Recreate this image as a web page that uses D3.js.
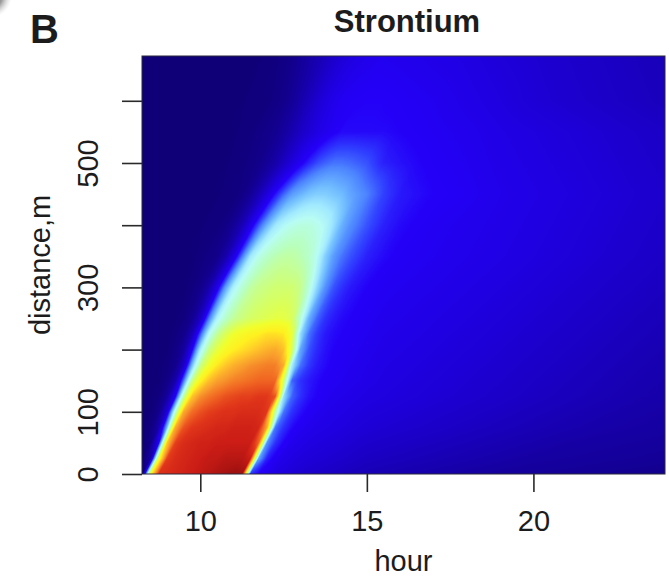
<!DOCTYPE html>
<html>
<head>
<meta charset="utf-8">
<script src="https://cdn.jsdelivr.net/npm/d3@7"></script>
<style>
  html, body { margin: 0; padding: 0; background: #ffffff; }
  svg { display: block; }
  text { font-family: "Liberation Sans", Arial, Helvetica, sans-serif; fill: #1c1c1c; }
</style>
</head>
<body>
<svg id="chart" width="669" height="579"></svg>
<script>
// Sampling grid: hour of day (columns) and distance downstream in metres (rows)
const hours = [8.25, 8.5, 8.75, 9, 9.25, 9.5, 9.75, 10, 10.25, 10.5, 10.75, 11, 11.25, 11.5, 11.75,
  12, 12.25, 12.5, 12.75, 13, 13.25, 13.5, 13.75, 14, 14.25, 14.5, 15, 15.5, 16, 17, 18, 19, 20, 21, 22, 23, 24];
const distances = [0, 25, 50, 75, 100, 125, 150, 175, 200, 225, 250, 300, 350, 400, 450, 500, 550, 600, 672];

// Hour at which the middle of the tracer cloud passes each distance
const plumeCentre = [9.94, 10.19, 10.4, 10.61, 10.78, 10.96, 11.13, 11.29, 11.46, 11.59, 11.79,
  12.2, 12.58, 13.08, 13.6, 14.1, 14.5, 15.0, 15.5];

// Relative strontium concentration (% of maximum), one row per distance
const concentration = [
  [0, 62, 88, 89, 90, 91, 92, 93, 94, 95, 96, 97, 97, 24, 21, 19, 17, 16, 15, 14, 13.5, 13, 12.5, 12, 11.5, 11, 10, 9.5, 9, 8, 7, 6, 5.5, 5, 4.5, 4, 3.5],
  [0, 6, 60, 86, 89, 90, 91, 92, 93, 93, 94, 94, 94, 92, 32, 23, 20, 18, 17, 16, 15.5, 15, 14.5, 14, 13.5, 13, 12, 11.5, 11, 10, 9, 8, 7, 6.5, 6, 5.5, 5],
  [0, 2, 20, 70, 86, 89, 90, 91, 91, 92, 92, 92, 92, 92, 82, 30, 24, 21, 19, 18, 17, 16.5, 16, 15.5, 15, 14.5, 13.5, 13, 12.5, 11.5, 10.5, 9.5, 8.5, 7.5, 7, 6.5, 6],
  [0, 1, 8, 34, 74, 84, 87, 88, 89, 90, 90, 91, 91, 91, 90, 74, 28, 24, 21.5, 20, 19, 18, 17.5, 17, 16.5, 16, 15, 14.5, 14, 13, 12, 11, 10, 9, 8, 7.5, 7],
  [0, 0, 3, 15, 46, 74, 81, 84, 86, 87, 88, 88, 89, 89, 89, 87, 50, 28, 24, 22, 20.5, 19.5, 18.5, 18, 17.5, 17, 16, 15.5, 15, 14, 13, 12, 11, 10, 9, 8, 7.5],
  [0, 0, 1, 6, 20, 50, 70, 77, 80, 82, 84, 85, 86, 86, 87, 87, 84, 38, 27, 24, 22, 21, 20, 19, 18.5, 18, 17, 16.5, 16, 15, 14, 13, 12, 11, 10, 9, 8],
  [0, 0, 0, 2, 8, 28, 52, 64, 71, 75, 77, 79, 80, 81, 82, 82, 82, 55, 27, 24, 22.5, 21.5, 20.5, 20, 19.5, 19, 18, 17, 16.5, 15.5, 14.5, 13.5, 12.5, 11.5, 10.5, 9.5, 8.5],
  [0, 0, 0, 1, 3, 12, 34, 52, 60, 66, 70, 73, 75, 77, 78, 79, 79, 74, 40, 28, 24.5, 22.5, 21.5, 20.5, 20, 19.5, 18.5, 17.5, 17, 16, 15, 14, 13, 12, 11, 10, 9],
  [0, 0, 0, 0, 2, 6, 20, 40, 52, 58, 62, 65, 67, 69, 71, 73, 74, 71, 56, 32, 26, 23.5, 22, 21, 20.5, 20, 19, 18, 17.5, 16.5, 15.5, 14.5, 13.5, 12.5, 11.5, 10.5, 9.5],
  [0, 0, 0, 0, 1, 3, 10, 26, 42, 51, 56, 60, 62, 64, 65, 67, 67, 66, 59, 38, 28, 24.5, 22.5, 21.5, 21, 20.5, 19.5, 18.5, 18, 17, 16, 15, 14, 13, 12, 11, 10],
  [0, 0, 0, 0, 0, 1, 4, 12, 28, 41, 47, 51, 53, 55, 56, 57, 58, 58, 56, 46, 33, 27, 24, 22.5, 21.5, 21, 20, 19, 18.5, 17.5, 16.5, 15.5, 14.5, 13.5, 12.5, 11.5, 10.5],
  [0, 0, 0, 0, 0, 0, 1, 3, 8, 18, 31, 41, 46, 50, 52, 53, 54, 54, 54, 52, 46, 37, 30, 26, 24, 22.5, 21, 20, 19.5, 18.5, 17.5, 16.5, 15.5, 14.5, 13.5, 12.5, 11.5],
  [0, 0, 0, 0, 0, 0, 0, 1, 2, 3, 8, 17, 28, 39, 44, 47, 49, 50, 50, 49, 47, 43, 36, 31, 28, 26, 23, 21.5, 20.5, 19.5, 18.5, 17.5, 16.5, 15.5, 14.5, 13.5, 12.5],
  [0, 0, 0, 0, 0, 0, 0, 0, 1, 1, 2, 5, 10, 18, 26, 33, 39, 42, 44, 45, 45, 44, 42, 38, 33, 30, 26, 23, 21.5, 20, 19, 18, 17, 16, 15, 14, 13],
  [0, 0, 0, 0, 0, 0, 0, 0, 0, 0, 1, 1, 2, 5, 10, 16, 22, 27, 31, 33, 35, 36, 36, 35, 34, 32, 29, 25, 22.5, 21, 20, 18.5, 17.5, 16.5, 15.5, 14.5, 13.5],
  [0, 0, 0, 0, 0, 0, 0, 0, 0, 0, 0, 1, 1, 2, 3, 5, 8, 12, 16, 20, 23, 25.5, 27, 28, 28, 27.5, 26, 23, 22, 20.5, 19.5, 18, 17, 16, 15, 14, 13],
  [0, 0, 0, 0, 0, 0, 0, 0, 0, 0, 0, 0, 1, 1, 2, 3, 4, 6, 9, 12, 14.5, 17, 19, 20.5, 21.5, 21.5, 21.5, 21.5, 21, 20, 19, 17.5, 16.5, 15.5, 14.5, 13.5, 12.5],
  [0, 0, 0, 0, 0, 0, 0, 0, 0, 0, 0, 0, 0, 1, 1, 1, 2, 3, 5, 8, 11, 14, 16.5, 18.5, 20, 20.5, 21, 21, 20.5, 19.5, 18, 16.5, 15, 14, 13, 12, 11],
  [0, 0, 0, 0, 0, 0, 0, 0, 0, 0, 0, 0, 0, 0, 0, 1, 1, 2, 3, 5, 7, 9, 11, 13, 15, 16.5, 18.5, 19.5, 19, 18, 17, 15.5, 14.5, 13.5, 12.5, 11.5, 10.5]
];

const hourTicks = [10, 15, 20];
const distanceTicks = [0, 100, 200, 300, 400, 500, 600];
const distanceTickLabels = ["0", "100", "", "300", "", "500", ""];

// Colour ramp: dark navy -> blue -> pale cyan -> yellow -> orange -> red -> dark red
const rampValues = [0, 8, 16, 21, 25, 29, 34, 39, 43, 48, 54, 60, 65, 70, 76, 82, 87, 92, 96, 100];
const rampColors = ["#0f0078", "#1600a8", "#1e00dc", "#2400f8", "#3040ff", "#4c84ff", "#70bcff", "#a0e8ff",
  "#b8fcf4", "#b8ffc0", "#d0ff70", "#f0ff2c", "#fff020", "#ffc828", "#f89a2c", "#f06422", "#e0361a",
  "#cc1c16", "#a41210", "#7c0a08"];

const plot = { left: 142, right: 665, top: 56, bottom: 474 };
const svg = d3.select("#chart");

const x = d3.scaleLinear().domain([8.25, 23.95]).range([plot.left, plot.right]);
const y = d3.scaleLinear().domain([0, 672]).range([plot.bottom, plot.top]);
const color = d3.scaleLinear().domain(rampValues).range(rampColors)
  .interpolate(d3.interpolateRgb).clamp(true);

// Lookup table for the colour ramp
const lut = d3.range(0, 1001).map(i => d3.rgb(color(i / 10)));

function cellIndex(arr, v) {
  const i = d3.bisectRight(arr, v) - 1;
  return Math.max(0, Math.min(arr.length - 2, i));
}
// Concentration along one distance row at hour h
function rowValue(j, h) {
  const row = concentration[j];
  if (h <= hours[0]) return row[0];
  if (h >= hours[hours.length - 1]) return row[row.length - 1];
  const i = cellIndex(hours, h);
  const t = (h - hours[i]) / (hours[i + 1] - hours[i]);
  return row[i] * (1 - t) + row[i + 1] * t;
}
// Between two rows, follow the drift of the cloud so its edges stay continuous
function valueAt(h, d) {
  const j = cellIndex(distances, d);
  const ty = Math.max(0, Math.min(1, (d - distances[j]) / (distances[j + 1] - distances[j])));
  const shift = plumeCentre[j + 1] - plumeCentre[j];
  const v0 = rowValue(j, h - ty * shift);
  const v1 = rowValue(j + 1, h + (1 - ty) * shift);
  return v0 * (1 - ty) + v1 * ty;
}

// Raster image of the concentration field
const cw = plot.right - plot.left, ch = plot.bottom - plot.top;
const canvas = document.createElement("canvas");
canvas.width = cw; canvas.height = ch;
const ctx = canvas.getContext("2d");
const img = ctx.createImageData(cw, ch);
for (let py = 0; py < ch; py++) {
  const d = y.invert(plot.top + py + 0.5);
  for (let px = 0; px < cw; px++) {
    const h = x.invert(plot.left + px + 0.5);
    const v = Math.max(0, Math.min(100, valueAt(h, d)));
    const col = lut[Math.round(v * 10)];
    const k = (py * cw + px) * 4;
    img.data[k] = col.r; img.data[k + 1] = col.g; img.data[k + 2] = col.b; img.data[k + 3] = 255;
  }
}
ctx.putImageData(img, 0, 0);

svg.append("image")
  .attr("x", plot.left).attr("y", plot.top)
  .attr("width", cw).attr("height", ch)
  .attr("preserveAspectRatio", "none")
  .attr("href", canvas.toDataURL());

// Frame around the image
svg.append("rect")
  .attr("x", plot.left).attr("y", plot.top)
  .attr("width", cw).attr("height", ch)
  .attr("fill", "none").attr("stroke", "#2a2a3a").attr("stroke-width", 1);

// Bottom axis
const xAxis = svg.append("g")
  .attr("transform", `translate(0,${plot.bottom})`)
  .call(d3.axisBottom(x).tickValues(hourTicks).tickSize(18).tickPadding(18).tickFormat(d3.format("d")));
xAxis.select(".domain").remove();
xAxis.selectAll(".tick line").attr("stroke", "#2a2a2a").attr("stroke-width", 1.6);
xAxis.selectAll(".tick text")
  .attr("y", 57).attr("dy", 0)
  .style("font-size", "29px").style("font-family", "'Liberation Sans', Arial, sans-serif")
  .attr("fill", "#1c1c1c");

// Left axis (labels parallel to the axis)
const yAxis = svg.append("g")
  .attr("transform", `translate(${plot.left},0)`)
  .call(d3.axisLeft(y).tickValues(distanceTicks).tickSize(20)
    .tickFormat((d, i) => distanceTickLabels[i]));
yAxis.select(".domain").remove();
yAxis.selectAll(".tick line").attr("stroke", "#2a2a2a").attr("stroke-width", 1.6);
yAxis.selectAll(".tick text")
  .attr("x", null).attr("dy", 0)
  .attr("transform", "translate(-44,0) rotate(-90)")
  .attr("text-anchor", "middle")
  .style("font-size", "29px").style("font-family", "'Liberation Sans', Arial, sans-serif")
  .attr("fill", "#1c1c1c");

// Axis titles
svg.append("text")
  .attr("x", (plot.left + plot.right) / 2).attr("y", 571)
  .attr("text-anchor", "middle").style("font-size", "29px")
  .text("hour");
svg.append("text")
  .attr("transform", `translate(50,${(plot.top + plot.bottom) / 2}) rotate(-90)`)
  .attr("text-anchor", "middle").style("font-size", "29px")
  .text("distance,m");

// Title and panel letter
svg.append("text")
  .attr("x", 407).attr("y", 32)
  .attr("text-anchor", "middle").style("font-size", "31px").style("font-weight", "bold")
  .text("Strontium");
svg.append("text")
  .attr("x", 30).attr("y", 43)
  .style("font-size", "40px").style("font-weight", "bold")
  .text("B");

// Edge of the neighbouring panel's rounded frame in the corner
const defs = svg.append("defs");
const rg = defs.append("radialGradient").attr("id", "cornerShade");
rg.append("stop").attr("offset", "55%").attr("stop-color", "#8c8c8c").attr("stop-opacity", 0.9);
rg.append("stop").attr("offset", "100%").attr("stop-color", "#d8d8d8").attr("stop-opacity", 0);
svg.append("circle").attr("cx", -10).attr("cy", -4).attr("r", 22).attr("fill", "url(#cornerShade)");
</script>
</body>
</html>
